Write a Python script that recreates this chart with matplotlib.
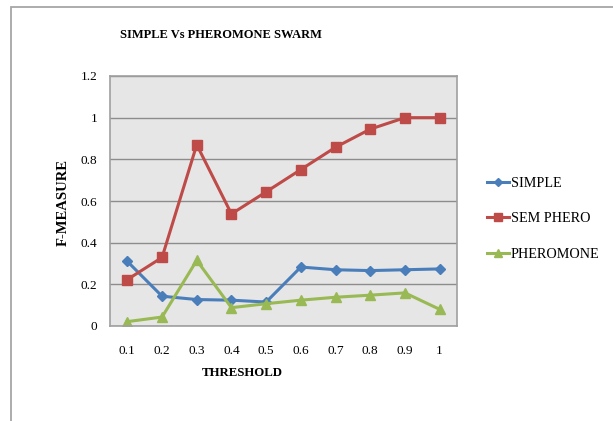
import matplotlib
matplotlib.use("Agg")
import matplotlib.pyplot as plt
from matplotlib.patches import Rectangle

thresholds = ["0.1", "0.2", "0.3", "0.4", "0.5", "0.6", "0.7", "0.8", "0.9", "1"]
simple = [0.31, 0.143, 0.127, 0.124, 0.115, 0.283, 0.270, 0.266, 0.270, 0.274]
sem_phero = [0.223, 0.329, 0.870, 0.538, 0.644, 0.751, 0.858, 0.945, 1.0, 1.0]
pheromone = [0.021, 0.043, 0.315, 0.088, 0.107, 0.124, 0.138, 0.148, 0.159, 0.080]
yticks = [0, 0.2, 0.4, 0.6, 0.8, 1, 1.2]
ytick_labels = ["0", "0.2", "0.4", "0.6", "0.8", "1", "1.2"]

plt.rcParams['font.family'] = ['Liberation Serif', 'DejaVu Serif']

W, H = 613, 421
fig = plt.figure(figsize=(W / 100, H / 100), dpi=100)
fig.patch.set_facecolor('white')

# outer chart border
fig.add_artist(Rectangle((10.5 / W, -0.05), 1.2, (H - 7.5) / H + 0.05,
                         transform=fig.transFigure, fill=False,
                         edgecolor='#a6a6a6', linewidth=1.3))

ax = fig.add_axes([110 / W, (H - 326) / H, 347 / W, 250 / H])
ax.set_facecolor('#e6e6e6')
x = list(range(len(thresholds)))

ax.plot(x, simple, color='#4a7ebb', lw=2.2, marker='D', ms=5.5, label='SIMPLE')
ax.plot(x, sem_phero, color='#be4b48', lw=2.2, marker='s', ms=7, label='SEM PHERO')
ax.plot(x, pheromone, color='#98b954', lw=2.2, marker='^', ms=7, label='PHEROMONE')

ax.set_xlim(-0.5, len(thresholds) - 0.5)
ax.set_ylim(0, 1.2)
ax.set_xticks(x)
ax.set_xticklabels(thresholds, fontsize=9.5)
ax.set_yticks(yticks)
ax.set_yticklabels(ytick_labels, fontsize=9.5)
ax.tick_params(length=0)
ax.tick_params(axis='y', pad=9)
ax.tick_params(axis='x', pad=14)
ax.grid(axis='y', color='#8c8c8c', lw=1)
ax.set_axisbelow(True)
for s in ax.spines.values():
    s.set_color('#a0a0a0')
    s.set_linewidth(1.2)

fig.text(221 / W, 1 - 35 / H, 'SIMPLE Vs PHEROMONE SWARM', fontsize=9,
         fontweight='bold', ha='center', va='center')
fig.text(242 / W, 1 - 373 / H, 'THRESHOLD', fontsize=9.3,
         fontweight='bold', ha='center', va='center')
fig.text(63 / W, 1 - 202 / H, 'F-MEASURE', fontsize=10.5, fontweight='bold',
         ha='center', va='center', rotation=90)

leg = fig.legend(loc='upper left', bbox_to_anchor=(474 / W, 1 - 164 / H),
                 frameon=False, fontsize=10.2, handlelength=1.6,
                 handletextpad=0.1, labelspacing=1.6, markerscale=0.75)

fig.savefig('out.png', dpi=100)
